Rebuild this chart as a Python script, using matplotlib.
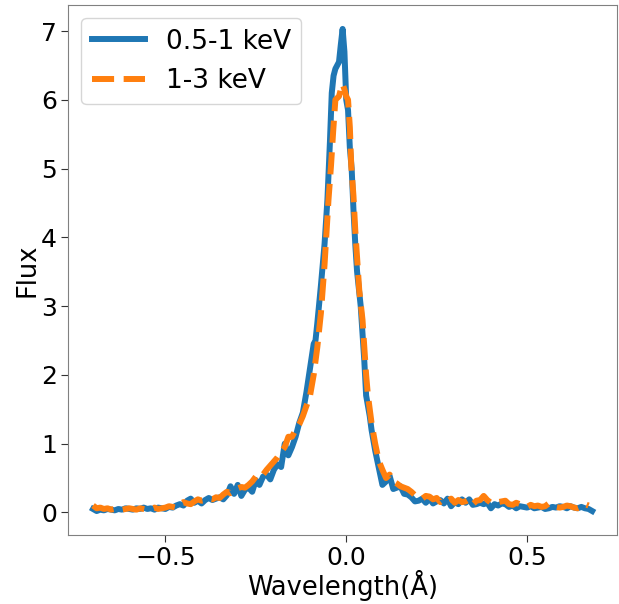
import matplotlib
matplotlib.use('Agg')
import matplotlib.pyplot as plt

# 0.5-1 keV
wave_soft = [-0.700, -0.690, -0.680, -0.670, -0.660, -0.650, -0.640, -0.630, -0.620, -0.610,
             -0.600, -0.590, -0.580, -0.570, -0.560, -0.550, -0.540, -0.530, -0.520, -0.510,
             -0.500, -0.490, -0.480, -0.470, -0.460, -0.450, -0.440, -0.430, -0.420, -0.410,
             -0.400, -0.390, -0.380, -0.370, -0.360, -0.350, -0.340, -0.330, -0.320, -0.310,
             -0.300, -0.290, -0.280, -0.270, -0.260, -0.250, -0.240, -0.230, -0.220, -0.210,
             -0.200, -0.190, -0.180, -0.170, -0.160, -0.150, -0.140, -0.130, -0.120, -0.110,
             -0.100, -0.090, -0.085, -0.080, -0.070, -0.060, -0.052, -0.045, -0.040, -0.035,
             -0.030, -0.020, -0.015, -0.010, -0.005, 0.000, 0.005, 0.010, 0.015, 0.020,
             0.025, 0.030, 0.040, 0.045, 0.050, 0.055, 0.060, 0.065, 0.070, 0.080,
             0.090, 0.100, 0.110, 0.120, 0.130, 0.140, 0.150, 0.160, 0.170, 0.180,
             0.190, 0.200, 0.210, 0.220, 0.230, 0.240, 0.250, 0.260, 0.270, 0.280,
             0.290, 0.300, 0.310, 0.320, 0.330, 0.340, 0.350, 0.360, 0.370, 0.380,
             0.390, 0.400, 0.410, 0.420, 0.430, 0.440, 0.450, 0.460, 0.470, 0.480,
             0.490, 0.500, 0.510, 0.520, 0.530, 0.540, 0.550, 0.560, 0.570, 0.580,
             0.590, 0.600, 0.610, 0.620, 0.630, 0.640, 0.650, 0.660, 0.670, 0.680]
flux_soft = [0.05, 0.02, 0.04, 0.03, 0.05, 0.04, 0.03, 0.05, 0.04, 0.06,
             0.05, 0.04, 0.06, 0.05, 0.07, 0.05, 0.06, 0.04, 0.07, 0.06,
             0.05, 0.08, 0.07, 0.10, 0.12, 0.10, 0.17, 0.20, 0.14, 0.17,
             0.13, 0.18, 0.21, 0.18, 0.20, 0.22, 0.19, 0.25, 0.38, 0.27,
             0.40, 0.24, 0.33, 0.36, 0.30, 0.47, 0.40, 0.52, 0.55, 0.48,
             0.62, 0.70, 0.66, 1.00, 0.83, 0.95, 1.10, 1.30, 1.45, 1.75,
             2.10, 2.45, 2.50, 2.75, 3.30, 3.90, 4.55, 5.40, 6.10, 6.35,
             6.45, 6.55, 6.80, 7.03, 6.70, 6.00, 5.85, 5.30, 5.00, 4.40,
             3.90, 3.50, 3.00, 2.60, 2.20, 1.70, 1.55, 1.40, 1.20, 0.90,
             0.65, 0.40, 0.45, 0.53, 0.34, 0.36, 0.38, 0.27, 0.26, 0.22,
             0.16, 0.17, 0.20, 0.14, 0.20, 0.13, 0.16, 0.18, 0.13, 0.20,
             0.09, 0.15, 0.12, 0.19, 0.14, 0.19, 0.11, 0.12, 0.14, 0.12,
             0.14, 0.06, 0.12, 0.10, 0.13, 0.12, 0.08, 0.10, 0.06, 0.09,
             0.08, 0.07, 0.09, 0.06, 0.07, 0.08, 0.05, 0.06, 0.08, 0.07,
             0.09, 0.08, 0.06, 0.09, 0.07, 0.06, 0.08, 0.06, 0.05, 0.02]

# 1-3 keV
wave_hard = [-0.700, -0.690, -0.680, -0.670, -0.660, -0.650, -0.640, -0.630, -0.620, -0.610,
             -0.600, -0.590, -0.580, -0.570, -0.560, -0.550, -0.540, -0.530, -0.520, -0.510,
             -0.500, -0.490, -0.480, -0.470, -0.460, -0.450, -0.440, -0.430, -0.420, -0.410,
             -0.400, -0.390, -0.380, -0.370, -0.360, -0.350, -0.340, -0.330, -0.320, -0.310,
             -0.300, -0.290, -0.280, -0.270, -0.260, -0.250, -0.240, -0.230, -0.220, -0.210,
             -0.200, -0.190, -0.180, -0.170, -0.160, -0.150, -0.140, -0.130, -0.120, -0.110,
             -0.100, -0.090, -0.080, -0.070, -0.060, -0.049, -0.042, -0.036, -0.030, -0.020,
             -0.015, -0.010, -0.005, 0.000, 0.005, 0.010, 0.014, 0.020, 0.025, 0.030,
             0.036, 0.045, 0.050, 0.055, 0.060, 0.070, 0.080, 0.090, 0.100, 0.110,
             0.120, 0.130, 0.140, 0.150, 0.160, 0.170, 0.180, 0.190, 0.200, 0.210,
             0.220, 0.230, 0.240, 0.250, 0.260, 0.270, 0.280, 0.290, 0.300, 0.310,
             0.320, 0.330, 0.340, 0.350, 0.360, 0.370, 0.380, 0.390, 0.400, 0.410,
             0.420, 0.430, 0.440, 0.450, 0.460, 0.470, 0.480, 0.490, 0.500, 0.510,
             0.520, 0.530, 0.540, 0.550, 0.560, 0.570, 0.580, 0.590, 0.600, 0.610,
             0.620, 0.630, 0.640, 0.650, 0.660, 0.670]
flux_hard = [0.10, 0.06, 0.07, 0.05, 0.06, 0.04, 0.05, 0.06, 0.04, 0.05,
             0.06, 0.05, 0.04, 0.06, 0.05, 0.04, 0.05, 0.07, 0.05, 0.06,
             0.07, 0.09, 0.08, 0.07, 0.12, 0.15, 0.13, 0.12, 0.16, 0.19,
             0.17, 0.18, 0.20, 0.19, 0.22, 0.21, 0.26, 0.30, 0.28, 0.31,
             0.35, 0.37, 0.36, 0.40, 0.45, 0.52, 0.50, 0.55, 0.62, 0.68,
             0.74, 0.80, 0.88, 0.95, 1.10, 1.10, 1.20, 1.28, 1.40, 1.55,
             1.70, 2.00, 2.40, 2.90, 3.60, 4.55, 5.05, 5.55, 6.00, 6.05,
             6.15, 6.23, 6.15, 6.05, 6.00, 5.60, 5.03, 4.60, 4.10, 3.70,
             3.23, 2.80, 2.40, 2.00, 1.70, 1.30, 1.00, 0.75, 0.62, 0.50,
             0.55, 0.45, 0.42, 0.38, 0.36, 0.34, 0.30, 0.25, 0.22, 0.20,
             0.24, 0.23, 0.19, 0.21, 0.15, 0.19, 0.17, 0.20, 0.14, 0.18,
             0.15, 0.16, 0.19, 0.12, 0.17, 0.18, 0.24, 0.18, 0.14, 0.14,
             0.15, 0.16, 0.17, 0.12, 0.11, 0.14, 0.12, 0.10, 0.08, 0.11,
             0.09, 0.10, 0.08, 0.09, 0.13, 0.11, 0.08, 0.07, 0.08, 0.10,
             0.09, 0.07, 0.06, 0.08, 0.12, 0.10]

fig = plt.figure(figsize=(6.19, 6.04), dpi=100)
ax = fig.add_axes([0.110, 0.114, 0.887, 0.878])
ax.plot(wave_soft, flux_soft, color='#1f77b4', lw=4.3, label='0.5-1 keV')
ax.plot(wave_hard, flux_hard, color='#ff7f0e', lw=4.3, ls='--', label='1-3 keV')

ax.set_xticks([-0.5, 0.0, 0.5])
ax.set_yticks(range(8))
ax.tick_params(labelsize=18, length=5, pad=3, color='#333333')
ax.set_xlabel('Wavelength(Å)', fontsize=18.5, labelpad=0)
ax.set_ylabel('Flux', fontsize=18.5, labelpad=0)
for s in ax.spines.values():
    s.set_color('#808080')
ax.legend(loc='upper left', fontsize=19, handlelength=2.0)

plt.savefig('out.png', dpi=100)
